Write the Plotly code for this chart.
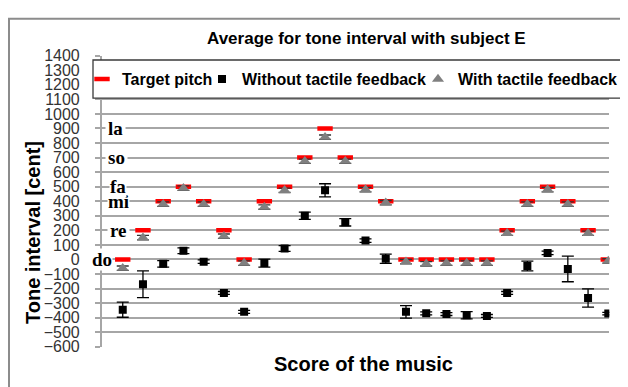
import plotly.graph_objects as go

# ---- data ----
notes = list(range(1, 26))
target_pitch = [0, 200, 400, 500, 400, 200, 0, 400, 500, 700, 900, 700, 500, 400,
                0, 0, 0, 0, 0, 200, 400, 500, 400, 200, 0]
without_fb = [-345, -170, -30, 60, -15, -230, -360, -25, 75, 300, 475, 255, 130, 5,
              -360, -370, -375, -383, -388, -230, -45, 45, -65, -265, -372]
without_err = [52, 92, 22, 20, 12, 10, 10, 27, 20, 25, 45, 25, 12, 32,
               43, 10, 10, 25, 10, 10, 33, 12, 88, 63, 8]
with_fb = [-60, 150, 380, 490, 380, 160, -25, 360, 475, 675, 840, 675, 480, 390,
           -15, -30, -25, -25, -25, 180, 380, 480, 380, 180, -10]
with_err = [15] * 25
solfege = ["do", "re", "la", "so", "mi", "fa"]
solfege_cents = [0, 200, 900, 700, 400, 500]
solfege_px = [102, 119, 115, 116, 119, 118]
solfege_pad = [0, 2, 2, 2, 0, 0]

W, H = 628, 387
OFF = 8  # page body margin offset


def fx(x):
    return (x - OFF) / W


def fy(y):
    return 1 - (y - OFF) / H


L, R = 101.7, 609.3
T, B = 49.5, 354.0
FONT = "Liberation Sans"

fig = go.Figure()
fig.add_trace(go.Scatter(
    x=notes, y=target_pitch, mode="markers", name="Target pitch", legend="legend",
    marker=dict(symbol="line-ew", size=11, color="#ff0000",
                line=dict(color="#ff0000", width=4.5)),
))
fig.add_trace(go.Scatter(
    x=notes, y=without_fb, mode="markers", name="Without tactile feedback",
    legend="legend2",
    marker=dict(symbol="square", size=8, color="#000000"),
    error_y=dict(type="data", array=without_err, visible=True,
                 color="#000000", thickness=1.3, width=6),
))
fig.add_trace(go.Scatter(
    x=notes, y=with_fb, mode="markers", name="With tactile feedback",
    legend="legend3",
    marker=dict(symbol="triangle-up", size=10.5, color="#808080"),
    error_y=dict(type="data", array=with_err, visible=True,
                 color="#333333", thickness=1.3, width=6),
))

annotations = []
for name, c, xp, pad in zip(solfege, solfege_cents, solfege_px, solfege_pad):
    annotations.append(dict(
        x=fx(xp), xref="paper", y=c, yref="y", text="<b>%s</b>" % name,
        showarrow=False, xanchor="center", yanchor="middle",
        font=dict(family="Liberation Serif", size=19, color="#000000"),
        bgcolor="#ffffff", borderpad=pad,
    ))
annotations.append(dict(
    x=fx(366), xref="paper", y=fy(32), yref="paper",
    text="<b>Average for tone interval with subject E</b>", showarrow=False,
    xanchor="center", yanchor="middle",
    font=dict(family=FONT, size=17, color="#000000"),
))
annotations.append(dict(
    x=fx(363), xref="paper", y=fy(372), yref="paper",
    text="<b>Score of the music</b>", showarrow=False,
    xanchor="center", yanchor="middle",
    font=dict(family=FONT, size=20, color="#000000"),
))
annotations.append(dict(
    x=fx(33), xref="paper", y=fy(235), yref="paper",
    text="<b>Tone interval [cent]</b>", showarrow=False, textangle=-90,
    xanchor="center", yanchor="middle",
    font=dict(family=FONT, size=20, color="#000000"),
))

shapes = [
    dict(type="rect", xref="paper", yref="paper",
         x0=fx(9), x1=fx(720), y0=fy(11), y1=fy(440),
         line=dict(color="#8c8c8c", width=2), fillcolor="rgba(0,0,0,0)",
         layer="below"),
    dict(type="rect", xref="paper", yref="paper",
         x0=fx(93), x1=fx(625), y0=fy(54), y1=fy(94),
         line=dict(color="#3a3a3a", width=1.3), fillcolor="#ffffff",
         layer="above"),
]

leg_common = dict(orientation="h", yanchor="middle", xanchor="left",
                  bgcolor="rgba(0,0,0,0)", borderwidth=0, itemwidth=30,
                  font=dict(family=FONT, size=16, color="#000000", weight="bold"))

fig.update_layout(
    width=W, height=H,
    margin=dict(l=0, r=0, t=0, b=0, pad=0),
    paper_bgcolor="#ffffff", plot_bgcolor="#ffffff",
    showlegend=True,
    legend=dict(x=fx(82), y=fy(74), **leg_common),
    legend2=dict(x=fx(202), y=fy(74), **leg_common),
    legend3=dict(x=fx(418), y=fy(74), **leg_common),
    xaxis=dict(domain=[fx(L), fx(R)], range=[-0.04, 25.05], showgrid=False,
               zeroline=False, showticklabels=False, ticks="", showline=False),
    yaxis=dict(domain=[fy(B), fy(T)], range=[-600, 1400], dtick=100, tick0=0,
               showgrid=True, gridcolor="#a6a6a6", gridwidth=1.5, zeroline=False,
               showline=True, linecolor="#a6a6a6", linewidth=1.5,
               ticks="outside", ticklen=5, tickcolor="#a6a6a6", tickwidth=1.5,
               ticklabelstandoff=12,
               tickfont=dict(family=FONT, size=16, color="#333333")),
    annotations=annotations, shapes=shapes,
)

fig.write_html("out.html")
